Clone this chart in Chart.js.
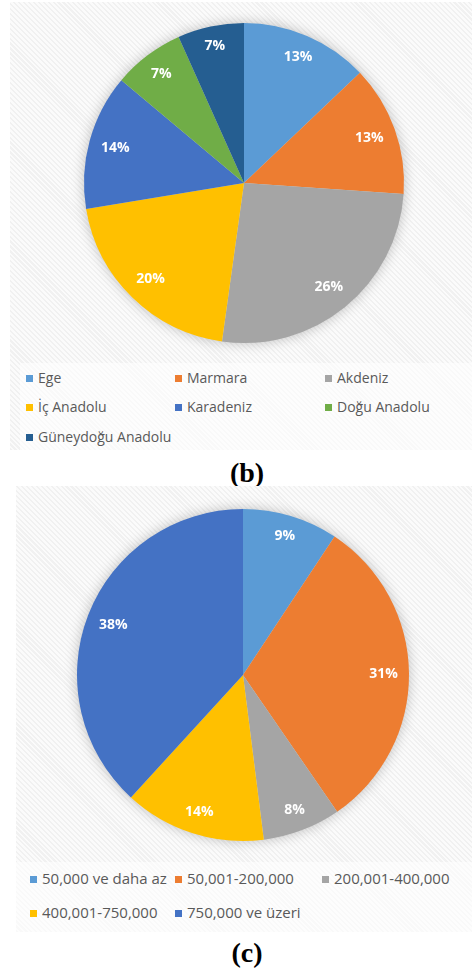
<!DOCTYPE html>
<html>
<head>
<meta charset="utf-8">
<script src="https://cdn.jsdelivr.net/npm/chart.js@4/dist/chart.umd.min.js"></script>
<style>
  body { margin: 0; background: #fff; width: 472px; height: 973px; position: relative; overflow: hidden; font-family: "Open Sans", sans-serif; }
  .panel { position: absolute; background: repeating-linear-gradient(45deg, #f1f1f1 0px, #f1f1f1 1.5px, #fbfbfb 1.5px, #fbfbfb 3.5px); }
  .legbox { position: absolute; background: rgba(255,255,255,0.55); }
  .leg { position: absolute; color: #595959; white-space: nowrap; line-height: 20px; }
  .leg i { display: inline-block; width: 7px; height: 7px; margin-right: 5px; vertical-align: 1px; }
  #legB .leg { font-size: 14px; }
  #legC .leg { font-size: 15px; }
  canvas { position: absolute; }
  .cap { position: absolute; width: 472px; left: 11px; text-align: center; font-family: "Liberation Serif", serif; font-weight: bold; font-size: 28px; line-height: 32px; }
</style>
</head>
<body>
<div class="panel" style="left:10px;top:2px;width:462px;height:448px"></div>
<div class="legbox" style="left:20px;top:363px;width:452px;height:87px"></div>
<canvas id="pieB" width="360" height="360" style="left:64px;top:3px"></canvas>
<div id="legB"></div>
<div class="cap" style="top:457px">(b)</div>

<div class="panel" style="left:16px;top:486px;width:456px;height:446px"></div>
<div class="legbox" style="left:16px;top:862px;width:456px;height:70px"></div>
<canvas id="pieC" width="372" height="372" style="left:57px;top:489px"></canvas>
<div id="legC"></div>
<div class="cap" style="top:937px">(c)</div>

<script>
// (b) bölgeler
var regionLabels = ['Ege', 'Marmara', 'Akdeniz', 'İç Anadolu', 'Karadeniz', 'Doğu Anadolu', 'Güneydoğu Anadolu'];
var regionValues = [12.9, 13.2, 26.1, 20.2, 13.7, 7.2, 6.7];
var regionColors = ['#5b9bd5', '#ed7d31', '#a5a5a5', '#ffc000', '#4472c4', '#70ad47', '#255e91'];

// (c) nüfus
var popLabels = ['50,000 ve daha az', '50,001-200,000', '200,001-400,000', '400,001-750,000', '750,000 ve üzeri'];
var popValues = [9.3, 31.1, 7.6, 13.8, 38.2];
var popColors = ['#5b9bd5', '#ed7d31', '#a5a5a5', '#ffc000', '#4472c4'];

var pieShadow = {
  id: 'pieShadow',
  beforeDatasetsDraw: function(chart) {
    var a = chart.getDatasetMeta(0).data[0];
    var ctx = chart.ctx;
    ctx.save();
    ctx.shadowColor = 'rgba(0,0,0,0.28)';
    ctx.shadowBlur = 14;
    ctx.fillStyle = '#ddd';
    ctx.beginPath();
    ctx.arc(a.x, a.y, a.outerRadius - 1, 0, Math.PI * 2);
    ctx.fill();
    ctx.restore();
  }
};

var pctLabels = {
  id: 'pctLabels',
  afterDatasetsDraw: function(chart) {
    var ctx = chart.ctx;
    var ds = chart.data.datasets[0];
    var total = ds.data.reduce(function(s, v) { return s + v; }, 0);
    ctx.save();
    ctx.font = 'bold 14px "Open Sans"';
    ctx.fillStyle = '#fff';
    ctx.textAlign = 'center';
    ctx.textBaseline = 'middle';
    chart.getDatasetMeta(0).data.forEach(function(arc, i) {
      var txt = Math.round(ds.data[i] / total * 100) + '%';
      var mid = (arc.startAngle + arc.endAngle) / 2;
      var c = Math.cos(mid), s = Math.sin(mid);
      var w = ctx.measureText(txt).width;
      var ext = Math.abs(c) * w / 2 + Math.abs(s) * 7;
      var d = arc.outerRadius - 11 - ext;
      ctx.fillText(txt, arc.x + c * d, arc.y + s * d);
    });
    ctx.restore();
  }
};

function makePie(id, labels, values, colors) {
  return new Chart(document.getElementById(id), {
    type: 'pie',
    data: {
      labels: labels,
      datasets: [{ data: values, backgroundColor: colors, borderWidth: 0 }]
    },
    options: {
      responsive: false,
      animation: false,
      layout: { padding: 20 },
      plugins: { legend: { display: false }, tooltip: { enabled: false } }
    },
    plugins: [pieShadow, pctLabels]
  });
}

function makeLegend(id, labels, colors, cols, rows) {
  var box = document.getElementById(id);
  labels.forEach(function(l, i) {
    var d = document.createElement('div');
    d.className = 'leg';
    d.style.left = cols[i % cols.length] + 'px';
    d.style.top = (rows[Math.floor(i / cols.length)] - 10) + 'px';
    d.innerHTML = '<i style="background:' + colors[i] + '"></i>' + l;
    box.appendChild(d);
  });
}

makePie('pieB', regionLabels, regionValues, regionColors);
makePie('pieC', popLabels, popValues, popColors);
makeLegend('legB', regionLabels, regionColors, [26, 175, 325], [378, 407, 437]);
makeLegend('legC', popLabels, popColors, [30, 175, 322], [878, 912]);
</script>
</body>
</html>
